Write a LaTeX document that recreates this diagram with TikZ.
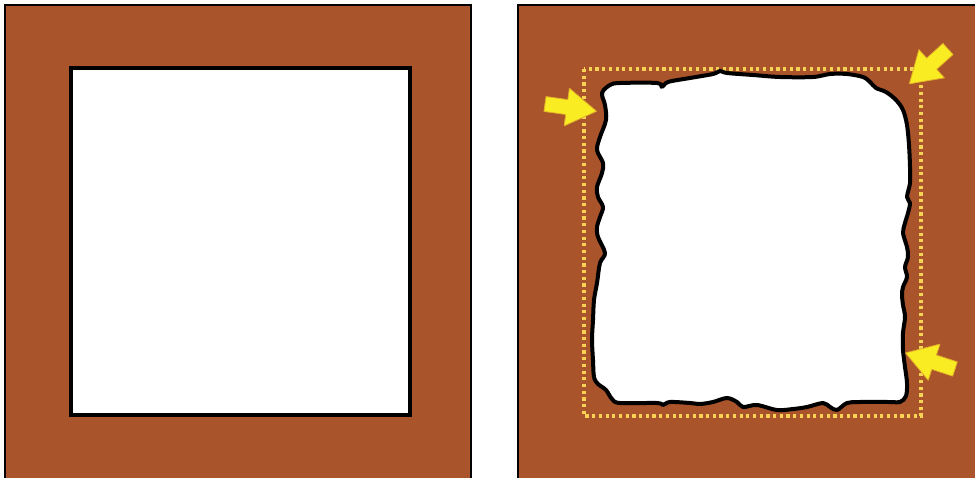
\documentclass[tikz,border=0pt]{standalone}
\definecolor{woodbrown}{RGB}{169,84,42}
\definecolor{arrowyellow}{RGB}{250,236,35}
\definecolor{arrowedge}{RGB}{225,175,40}
\definecolor{dotyellow}{RGB}{247,210,85}
\tikzset{
  panel/.style={fill=woodbrown, draw=black, line width=2.4pt},
  squarehole/.style={fill=white, draw=black, line width=3.4pt},
  hole/.style={fill=white, draw=black, line width=4pt, line join=round},
  dotframe/.style={draw=dotyellow, line width=3.2pt, dash pattern=on 3.2pt off 3.5pt},
  blockarrow/.style={fill=arrowyellow, draw=arrowedge, line width=0.8pt, line join=round}
}
\begin{document}
\begin{tikzpicture}[x=1pt,y=-1pt]
\useasboundingbox (0,0) rectangle (975,477);
\fill[white] (0,0) rectangle (975,477);
% left panel
\draw[panel] (5,5) rectangle (471,482);
\draw[squarehole] (71,68) rectangle (410,415);
% right panel
\draw[panel] (518,5) rectangle (982,482);
\draw[dotframe] (584,69) rectangle (921,416);
\draw[hole] plot[smooth cycle, tension=0.55] coordinates {
 (602,93) (610,85) (620,83) (657,83) (662,87) (668,82) (690,78) (713,74) (720,71) (727,73)
 (753,75) (780,77) (813,77) (830,74) (847,74) (863,77) (870,82) (876,88) (886,92) (896,100)
 (903,110) (907,125) (909,145) (910,167) (910,183) (907,197) (910,203) (908,213) (905,223)
 (903,233) (907,247) (908,257) (905,267) (907,277) (903,287) (902,295) (903,305) (905,317)
 (903,333) (903,350) (905,367) (907,383) (906,396)
 (900,402) (890,402) (860,402) (847,403) (837,410) (830,407) (823,403) (807,407) (793,409)
 (777,410) (757,405) (743,407) (737,402) (727,398) (713,402) (700,404) (690,403) (670,402)
 (663,405) (657,403) (620,403) (612,399) (606,390) (598,384)
 (594,377) (593,360) (592,340) (593,320) (594,300) (597,283) (600,263) (605,253) (598,237)
 (597,227) (600,217) (603,207) (598,197) (597,187) (602,173) (603,163) (597,150) (600,137)
 (606,120) (605,105)
};
% arrows
\foreach \px/\py/\ang in {545/104/-8, 948/49/-138, 955/369/162}{
  \draw[blockarrow, shift={(\px,\py)}, rotate=\ang]
    (0,-7.5) -- (22,-7.5) -- (22,-19) -- (52,0) -- (22,19) -- (22,7.5) -- (0,7.5) -- cycle;
}
\end{tikzpicture}
\end{document}
